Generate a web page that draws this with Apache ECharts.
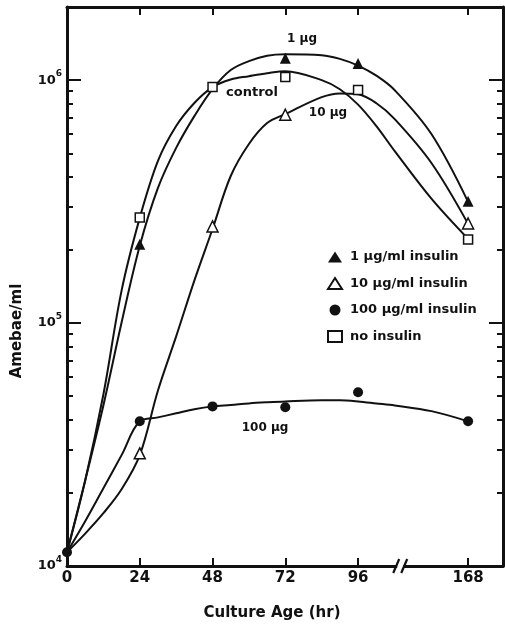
<!DOCTYPE html>
<html><head><meta charset="utf-8">
<script src="https://cdn.jsdelivr.net/npm/echarts@6/dist/echarts.min.js"></script>
<style>html,body{margin:0;padding:0;background:#fff}#c{width:505px;height:625px}</style>
</head><body><div id="c"></div>
<script>
// ---- data ----
const hours = [0, 24, 48, 72, 96, 168];
const tickLabels = ['0', '24', '48', '72', '96', '168'];
// measured points (null = hidden under another marker in the original)
const ins1   = [null, 2.11e5, null, 1.23e6, 1.17e6, 3.17e5];   // 1 µg/ml insulin
const ins10  = [null, 2.91e4, 2.50e5, 7.20e5, null, 2.57e5];   // 10 µg/ml insulin
const ins100 = [1.14e4, 3.94e4, 4.54e4, 4.50e4, 5.19e4, 3.94e4]; // 100 µg/ml insulin
const noIns  = [null, 2.72e5, 9.36e5, 1.03e6, 9.10e5, 2.21e5];  // no insulin
// hand-drawn fitted curves at these hours
const curveHours = [0, 6, 12, 18, 24, 30, 36, 42, 48, 54, 60, 66, 72, 84, 90, 96, 108, 120, 144, 168];
const curve1   = [1.14e4, 2.25e4, 4.58e4, 1.005e5, 2.08e5, 3.60e5, 5.26e5, 7.11e5, 9.18e5, 1.100e6, 1.197e6, 1.261e6, 1.279e6, 1.267e6, 1.223e6, 1.148e6, 1.043e6, 9.09e5, 6.0e5, 3.155e5];
const curveCtl = [1.14e4, 2.25e4, 5.08e4, 1.36e5, 2.71e5, 4.65e5, 6.47e5, 8.05e5, 9.36e5, 1.006e6, 1.038e6, 1.068e6, 1.089e6, 1.0e6, 9.17e5, 7.93e5, 6.47e5, 5.10e5, 3.25e5, 2.22e5];
const curve10  = [1.14e4, 1.36e4, 1.65e4, 2.07e4, 2.86e4, 5.28e4, 8.81e4, 1.496e5, 2.44e5, 4.03e5, 5.46e5, 6.66e5, 7.25e5, 8.51e5, 8.82e5, 8.74e5, 8.03e5, 6.91e5, 4.56e5, 2.56e5];
const curve100 = [1.14e4, 1.53e4, 2.09e4, 2.86e4, 3.94e4, 4.09e4, 4.25e4, 4.42e4, 4.54e4, 4.60e4, 4.67e4, 4.72e4, 4.76e4, 4.81e4, 4.81e4, 4.76e4, 4.67e4, 4.58e4, 4.34e4, 3.94e4];
const seriesNames = ['1 µg/ml insulin', '10 µg/ml insulin', '100 µg/ml insulin', 'no insulin'];
const yMajor = [1e4, 1e5, 1e6];
const yMinor = [2e4, 3e4, 4e4, 5e4, 6e4, 7e4, 8e4, 9e4, 2e5, 3e5, 4e5, 5e5, 6e5, 7e5, 8e5, 9e5];
const Y_MIN = 1e4, Y_MAX = 2e6;

// ---- axis transform: log y, broken x after 96 h ----
const BREAK_SCALE = 0.504;
const X_MAX_POS = 143.8;
function toPos(h) { return h <= 96 ? h : 96 + (h - 96) * BREAK_SCALE; }
function lg(v) { return Math.log10(v); }
function pts(xs, ys) {
  const out = [];
  xs.forEach((x, i) => { if (ys[i] != null) out.push([toPos(x), lg(ys[i])]); });
  return out;
}

const FONT = 'DejaVu Sans';
const INK = '#111';
const xTickPos = hours.slice(1).map(toPos);
const xLabelPos = hours.map(toPos);
const yMajorL = yMajor.map(lg);
const yMinorL = yMinor.map(lg);

const chart = echarts.init(document.getElementById('c'), null, {renderer: 'canvas'});

function xAx(pos, labels) {
  return {
    type: 'value', position: pos, min: 0, max: X_MAX_POS, gridIndex: 0,
    axisLine: {show: true, onZero: false, lineStyle: {color: INK, width: 3}},
    axisTick: {show: true, inside: true, length: 8, lineStyle: {color: INK, width: 2}, customValues: xTickPos},
    axisLabel: labels ? {
      show: true, margin: 5, fontFamily: FONT, fontWeight: 'bold', fontSize: 15, color: INK,
      customValues: xLabelPos,
      formatter: v => { let k = 0, d = 1e9; xLabelPos.forEach((p, i) => { if (Math.abs(p - v) < d) { d = Math.abs(p - v); k = i; } }); return tickLabels[k]; }
    } : {show: false},
    splitLine: {show: false}
  };
}
function yAx(pos, major, line, labels) {
  return {
    type: 'value', position: pos, min: lg(Y_MIN), max: lg(Y_MAX), gridIndex: 0,
    axisLine: {show: line, onZero: false, lineStyle: {color: INK, width: 3}},
    axisTick: {show: true, inside: true, length: major ? 14 : 6, lineStyle: {color: INK, width: 2},
               customValues: major ? yMajorL.slice(1) : yMinorL},
    axisLabel: labels ? {
      show: true, margin: 5, customValues: yMajorL,
      formatter: v => '{b|10}{s|' + Math.round(v) + '}',
      rich: {
        b: {fontFamily: FONT, fontWeight: 'bold', fontSize: 13, color: INK, lineHeight: 22, verticalAlign: 'middle'},
        s: {fontFamily: FONT, fontWeight: 'bold', fontSize: 9, color: INK, lineHeight: 9, verticalAlign: 'top'}
      }
    } : {show: false},
    splitLine: {show: false}
  };
}

const markerStyles = [
  {symbol: 'triangle', size: 11, style: {color: INK, opacity: 1}},
  {symbol: 'triangle', size: 11, style: {color: '#fff', borderColor: INK, borderWidth: 1.5, opacity: 1}},
  {symbol: 'circle', size: 10, style: {color: INK, opacity: 1}},
  {symbol: 'rect', size: 9, style: {color: '#fff', borderColor: INK, borderWidth: 1.5, opacity: 1}}
];
const markerData = [ins1, ins10, ins100, noIns];
const curves = [curve1, curve10, curve100, curveCtl];

const series = [];
curves.forEach(c => series.push({
  type: 'line', xAxisIndex: 0, yAxisIndex: 0, data: pts(curveHours, c),
  smooth: 0.35, symbol: 'none', lineStyle: {color: INK, width: 2}, z: 2, silent: true
}));
markerData.forEach((d, i) => series.push({
  type: 'scatter', name: seriesNames[i], xAxisIndex: 0, yAxisIndex: 0, data: pts(hours, d),
  symbol: markerStyles[i].symbol, symbolSize: markerStyles[i].size,
  itemStyle: markerStyles[i].style, z: 4 + (i === 2 ? 1 : 0)
}));

const txt = (x, y, s, size, extra) => Object.assign({
  type: 'text', x: x, y: y,
  style: {text: s, fill: INK, font: 'bold ' + size + 'px "' + FONT + '"', align: 'center', verticalAlign: 'middle'}
}, extra || {});

chart.setOption({
  animation: false,
  backgroundColor: '#fff',
  grid: {left: 67, right: 2, top: 7, bottom: 59, containLabel: false},
  xAxis: [xAx('bottom', true), xAx('top', false)],
  yAxis: [yAx('left', true, true, true), yAx('left', false, false, false),
          yAx('right', true, true, false), yAx('right', false, false, false)],
  legend: {
    orient: 'vertical', left: 327, top: 250, itemWidth: 14, itemHeight: 11, itemGap: 12.5, padding: 0,
    data: seriesNames,
    textStyle: {fontFamily: FONT, fontWeight: 'bold', fontSize: 13, color: INK, lineHeight: 14, padding: [0, 0, 0, 3]}
  },
  series: series,
  graphic: [
    txt(17, 331, 'Amebae/ml', 15, {rotation: Math.PI / 2}),
    txt(272, 613, 'Culture Age (hr)', 15),
    txt(302, 39, '1 µg', 12),
    txt(252, 93, 'control', 13),
    txt(328, 113, '10 µg', 12),
    txt(265, 428, '100 µg', 12)
  ]
});

// axis break mark "//" on the time axis
const pb = chart.convertToPixel({xAxisIndex: 0, yAxisIndex: 0}, [109.9, lg(Y_MIN)]);
const g = chart.getOption().graphic[0].elements.slice();
g.push({type: 'rect', shape: {x: pb[0] - 3, y: pb[1] - 3, width: 6, height: 6}, style: {fill: '#fff'}, z: 100});
[-4, 4].forEach(dx => g.push({
  type: 'line', z: 101,
  shape: {x1: pb[0] + dx - 3, y1: pb[1] + 7, x2: pb[0] + dx + 3, y2: pb[1] - 7},
  style: {stroke: INK, lineWidth: 2.2}
}));
chart.setOption({graphic: g}, {replaceMerge: ['graphic']});
</script></body></html>
